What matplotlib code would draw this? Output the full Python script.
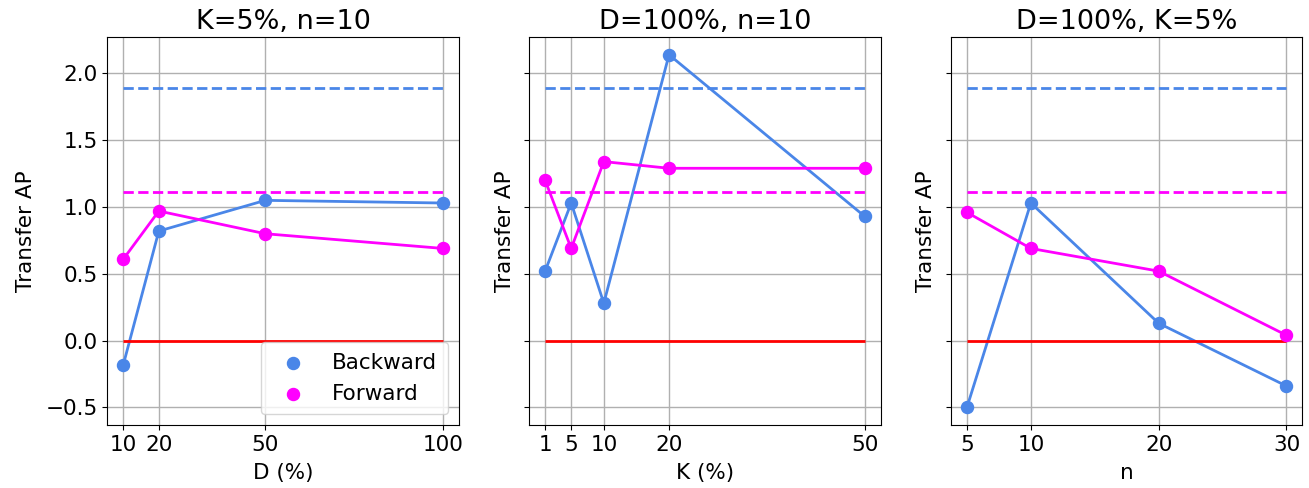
import numpy as np
import matplotlib
matplotlib.use('Agg')
from matplotlib import pyplot as plt

# dane do wykresu
D_vals = [10, 20, 50, 100]
D_back = [-0.18, 0.82, 1.05, 1.03]
D_fwd = [0.61, 0.97, 0.80, 0.69]

K_vals = [1, 5, 10, 20, 50]
K_back = [0.52, 1.03, 0.28, 2.14, 0.93]
K_fwd = [1.20, 0.69, 1.34, 1.29, 1.29]

n_vals = [5, 10, 20, 30]
n_back = [-0.50, 1.03, 0.13, -0.34]
n_fwd = [0.96, 0.69, 0.52, 0.04]

ref_back = 1.89
ref_fwd = 1.11
zero_line = 0.0

titles = ['K=5%, n=10', 'D=100%, n=10', 'D=100%, K=5%']
xlabels = ['D (%)', 'K (%)', 'n']
xs = [D_vals, K_vals, n_vals]
backs = [D_back, K_back, n_back]
fwds = [D_fwd, K_fwd, n_fwd]

blue = '#4A86E8'
mag = '#FF00FF'

plt.rcParams['font.size'] = 15.5
fig, axes = plt.subplots(1, 3, figsize=(13.09, 4.88), dpi=100, sharey=True)
fig.subplots_adjust(left=0.082, right=0.995, top=0.924, bottom=0.129, wspace=0.2)

for i in range(3):
    ax = axes[i]
    x = xs[i]
    ax.plot(x, backs[i], color=blue, lw=2)
    ax.plot(x, fwds[i], color=mag, lw=2)
    ax.scatter(x, backs[i], color=blue, s=75, zorder=3, label='Backward')
    ax.scatter(x, fwds[i], color=mag, s=75, zorder=3, label='Forward')
    ax.hlines(ref_back, x[0], x[-1], colors=blue, linestyles='--', lw=2)
    ax.hlines(ref_fwd, x[0], x[-1], colors=mag, linestyles='--', lw=2)
    ax.hlines(zero_line, x[0], x[-1], colors='red', lw=2)
    ax.set_xticks(x)
    ax.set_title(titles[i], fontsize=19.5)
    ax.set_xlabel(xlabels[i], labelpad=6)
    ax.set_ylabel('Transfer AP', labelpad=7)
    ax.grid(True, color='#b0b0b0', lw=1)
    ax.set_axisbelow(True)

axes[0].set_yticks([-0.5, 0.0, 0.5, 1.0, 1.5, 2.0])
axes[0].legend(loc='lower right', borderpad=0.5)
plt.savefig('out.png')
